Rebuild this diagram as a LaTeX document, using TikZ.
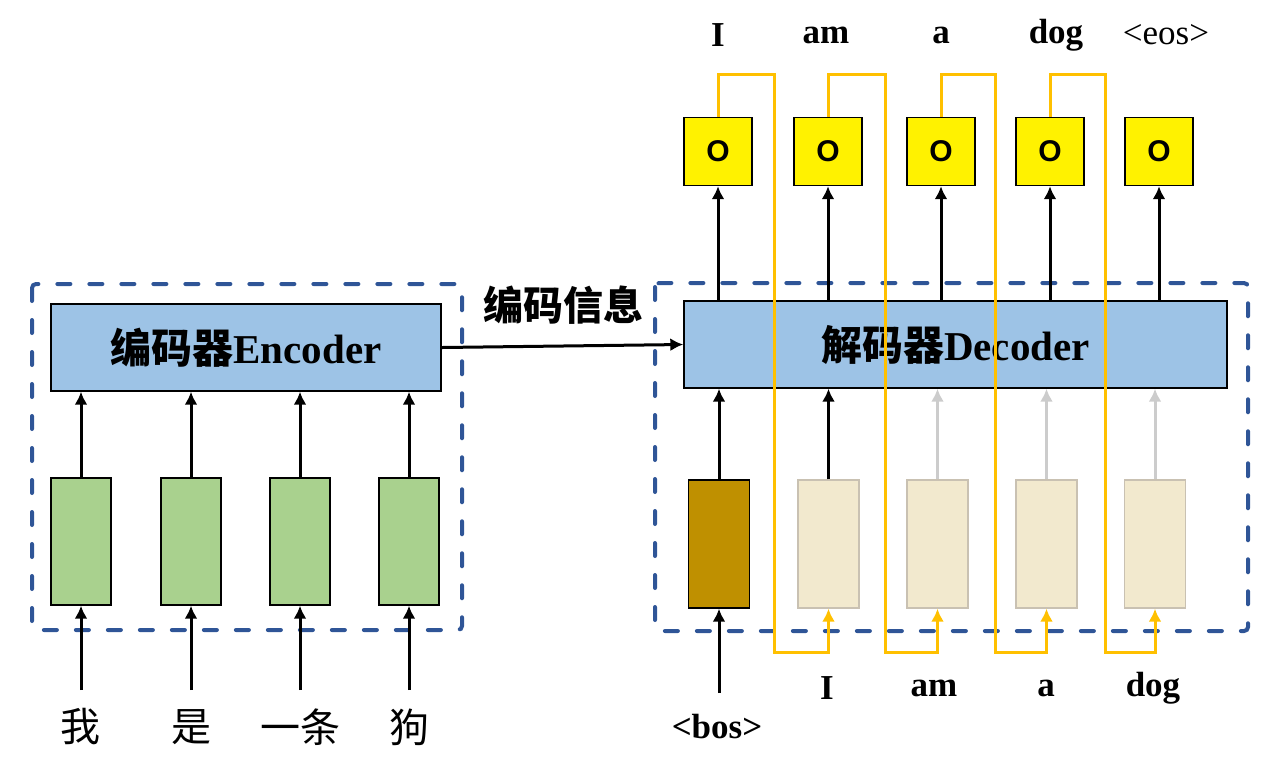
\documentclass[tikz,border=0pt]{standalone}
\usepackage{fontspec}
\setmainfont{Liberation Serif}
\newfontfamily\cjk{Noto Sans CJK SC}
\newfontfamily\arialfont{Liberation Sans}
\usepackage{tikz}
\usetikzlibrary{arrows,arrows.meta}

\definecolor{encblue}{HTML}{9DC3E6}
\definecolor{frameblue}{HTML}{2F5597}
\definecolor{embgreen}{HTML}{A9D18E}
\definecolor{bosbrown}{HTML}{BF9000}
\definecolor{tokcream}{HTML}{F2E9CE}
\definecolor{tokedge}{HTML}{C9C1B2}
\definecolor{loopgold}{HTML}{FFC000}
\definecolor{fadegray}{HTML}{CCCCCC}

\tikzset{
  frame/.style={draw=frameblue, line width=2pt, dash pattern=on 6.5pt off 9.5pt,
    line cap=round, rounded corners=2pt},
  coder/.style={draw, fill=encblue, line width=0.7pt, minimum width=#1,
    minimum height=43.5pt, inner sep=0pt, font=\fontsize{20.5}{24}\selectfont\bfseries},
  emb/.style={draw, fill=embgreen, line width=0.7pt, minimum width=30pt,
    minimum height=63.5pt, inner sep=0pt},
  tok/.style={draw=tokedge, fill=tokcream, line width=0.7pt, minimum width=30.5pt,
    minimum height=64pt, inner sep=0pt},
  outbox/.style={draw, fill=yellow, line width=0.7pt, minimum width=34pt,
    minimum height=34pt, inner sep=0pt, font=\arialfont\fontsize{15}{17}\selectfont\bfseries},
  word/.style={inner sep=0pt, font=\fontsize{17.5}{20}\selectfont\bfseries},
  hanzi/.style={inner sep=0pt, font=\cjk\fontsize{20}{24}\selectfont},
  arr/.style={-{Latex[length=6.5pt,width=6.5pt]}, line width=1.5pt},
  faded/.style={arr, draw=fadegray},
  feed/.style={arr, draw=loopgold}
}

\begin{document}
\begin{tikzpicture}[x=0.5pt,y=-0.5pt]
\useasboundingbox (0,0) rectangle (1286,768);

% dashed frames
\draw[frame] (32,284) rectangle (462,630);
\draw[frame] (655,283) rectangle (1248,631);

% encoder
\node[coder=195pt] (enc) at (246,347.5) {{\cjk 编码器}Encoder};
\foreach \x/\w [count=\i] in {81/我,191/是,300/一条,409/狗} {
  \node[emb] (emb\i) at (\x,541.5) {};
  \coordinate (src\i) at (\x,690);
  \node[hanzi] (zh\i) at (\x,727) {\w};
  \draw[arr] (src\i) -- (emb\i.south);
  \draw[arr] (emb\i.north) -- (emb\i.north |- enc.south);
}

% decoder
\node[coder=271.5pt] (dec) at (955.5,344.5) {{\cjk 解码器}Decoder};
\node[font=\cjk\fontsize{20}{24}\selectfont\bfseries] (info) at (563,305) {编码信息};
\draw[arr] (enc.east) -- (dec.west);

\node[tok, draw=black, fill=bosbrown] (tok1) at (719,544) {};
\foreach \x [count=\i from 2] in {828.5,937.5,1046.5,1155}
  \node[tok] (tok\i) at (\x,544) {};
\coordinate (bosin) at (719,693);
\node[word] (bos) at (717,727) {<bos>};
\draw[arr] (bosin) -- (tok1.south);
\draw[arr] (tok1.north) -- (tok1.north |- dec.south);
\draw[arr] (tok2.north) -- (tok2.north |- dec.south);
\foreach \i in {3,4,5}
  \draw[faded] (tok\i.north) -- (tok\i.north |- dec.south);

\foreach \x/\w [count=\i] in {827/I,934/am,1046/a,1153/dog}
  \node[word] (in\i) at (\x,688) {\w};

% outputs
\foreach \x/\w/\lx [count=\i] in {718/I/718,828/am/826,941/a/941,1050/dog/1056} {
  \node[outbox] (o\i) at (\x,151.5) {O};
  \node[word] (out\i) at (\lx,35) {\w};
  \draw[arr] (o\i.south |- dec.north) -- (o\i.south);
}
\node[outbox] (o5) at (1159,151.5) {O};
\node[word, font=\fontsize{17.5}{20}\selectfont] (out5) at (1166,35) {<eos>};
\draw[arr] (o5.south |- dec.north) -- (o5.south);

% feeding the output back in
\coordinate (low) at (0,652);
\foreach \i/\j/\xr in {1/2/774,2/3/885,3/4/995,4/5/1105}
  \draw[feed] (o\i.north) |- (\xr,74) |- (low -| tok\j) -- (tok\j.south);
\end{tikzpicture}
\end{document}
